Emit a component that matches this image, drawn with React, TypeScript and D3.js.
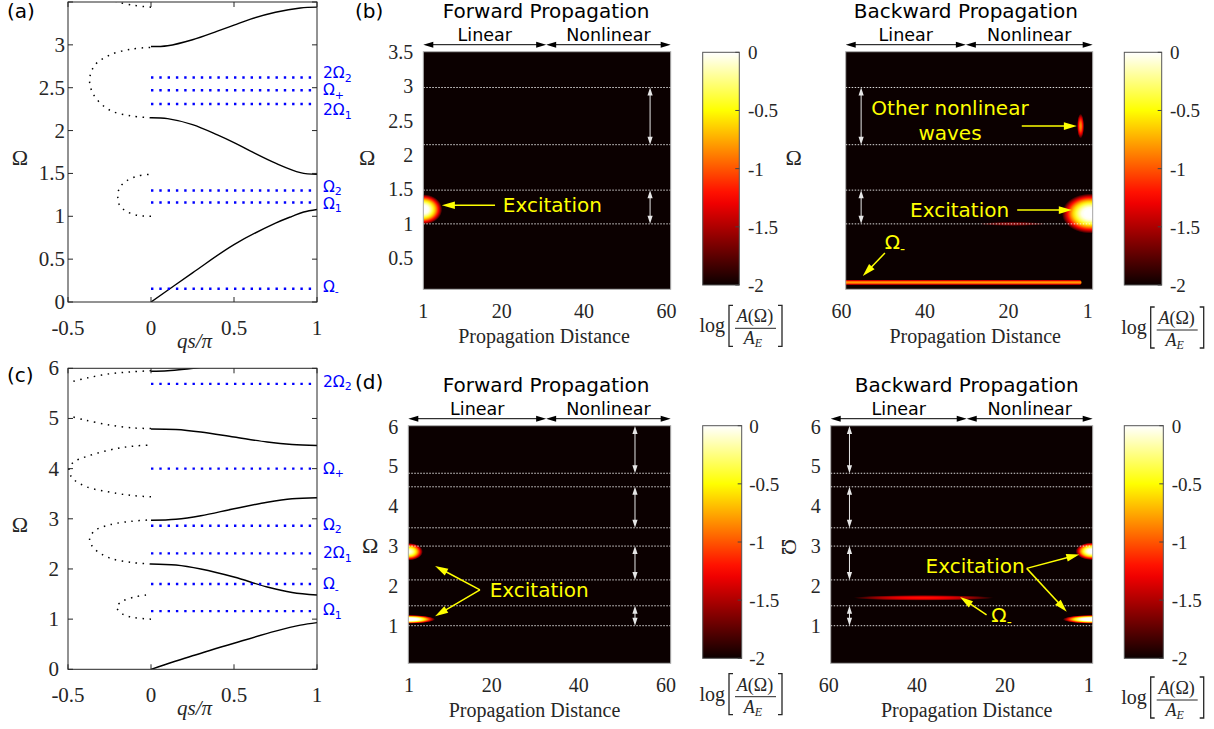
import React from "react";
import * as d3 from "d3";

const SERIF = "'Liberation Serif', 'Times New Roman', serif";
const SANS = "'DejaVu Sans', Verdana, sans-serif";
const INK = "#262626";
const YEL = "#ffff00";
const BLUE = "#0000ff";

// ---------------- (a) dispersion, (qs/π, Ω) ----------------
const qTicks = [-0.5, 0, 0.5, 1];
const omegaTicksA = [0, 0.5, 1, 1.5, 2, 2.5, 3, 3.5];
const omegaLabelsA = [0, 0.5, 1, 1.5, 2, 2.5, 3];
const bandsA = [
  [[0, 0], [0.25, 0.34], [0.5, 0.67], [0.75, 0.92], [0.85, 1.0], [0.92, 1.05], [1, 1.08]],
  [[0, 2.15], [0.1, 2.14], [0.25, 2.07], [0.4, 1.95], [0.5, 1.86], [0.6, 1.76], [0.75, 1.62], [0.9, 1.51], [1, 1.49]],
  [[0, 2.98], [0.1, 2.99], [0.25, 3.06], [0.4, 3.16], [0.5, 3.23], [0.6, 3.3], [0.75, 3.38], [0.9, 3.43], [1, 3.44]],
];
const evanescentA = [
  [[0, 1.0], [-0.08, 1.01], [-0.15, 1.06], [-0.19, 1.13], [-0.2, 1.23], [-0.19, 1.33], [-0.15, 1.41], [-0.08, 1.47], [0, 1.49]],
  [[0, 2.15], [-0.12, 2.17], [-0.25, 2.24], [-0.34, 2.4], [-0.37, 2.58], [-0.34, 2.76], [-0.25, 2.88], [-0.12, 2.95], [0, 2.97]],
  [[0, 3.44], [-0.1, 3.46], [-0.2, 3.5], [-0.25, 3.54]],
];
const pumpLevelsA = [2.62, 2.47, 2.31, 1.3, 1.16, 0.155];
const pumpNamesA = [["2Ω", "2"], ["Ω", "+"], ["2Ω", "1"], ["Ω", "2"], ["Ω", "1"], ["Ω", "-"]];
const pumpNudgeA = [-4, 0, 6, -4, 1, -2];

// ---------------- (c) dispersion ----------------
const omegaTicksC = [0, 1, 2, 3, 4, 5, 6];
const omegaLabelsC = [0, 1, 2, 3, 4, 5, 6];
const bandsC = [
  [[0, 0], [0.25, 0.27], [0.5, 0.52], [0.75, 0.76], [0.9, 0.88], [1, 0.93]],
  [[0, 2.1], [0.15, 2.08], [0.3, 2.0], [0.5, 1.84], [0.7, 1.64], [0.85, 1.53], [1, 1.48]],
  [[0, 2.97], [0.15, 2.99], [0.3, 3.06], [0.5, 3.2], [0.7, 3.33], [0.85, 3.4], [1, 3.42]],
  [[0, 4.79], [0.15, 4.78], [0.3, 4.73], [0.5, 4.63], [0.7, 4.53], [0.85, 4.48], [1, 4.46]],
  [[0, 5.94], [0.1, 5.95], [0.2, 5.98], [0.3, 6.02]],
];
const evanescentC = [
  [[0, 1.0], [-0.1, 1.03], [-0.17, 1.1], [-0.207, 1.24], [-0.17, 1.36], [-0.1, 1.44], [-0.03, 1.48]],
  [[0, 2.1], [-0.12, 2.13], [-0.25, 2.22], [-0.34, 2.4], [-0.37, 2.58], [-0.34, 2.76], [-0.25, 2.88], [-0.12, 2.95], [0, 2.98]],
  [[0, 3.44], [-0.1, 3.46], [-0.21, 3.51], [-0.39, 3.64], [-0.47, 3.8], [-0.495, 3.97], [-0.47, 4.12], [-0.39, 4.24], [-0.21, 4.4], [-0.1, 4.45], [0, 4.47]],
  [[0, 4.8], [-0.1, 4.81], [-0.25, 4.87], [-0.4, 4.97], [-0.48, 5.04]],
  [[0, 5.95], [-0.12, 5.93], [-0.25, 5.89], [-0.38, 5.81], [-0.47, 5.74]],
];
const pumpLevelsC = [5.69, 4.0, 2.86, 2.31, 1.7, 1.16];
const pumpNamesC = [["2Ω", "2"], ["Ω", "+"], ["Ω", "2"], ["2Ω", "1"], ["Ω", "-"], ["Ω", "1"]];
const pumpNudgeC = [-2, 0, -1, 0, 0, -1];

// ---------------- heat maps ----------------
const distTicksFwd = [1, 20, 40, 60];
const distTicksBwd = [60, 40, 20, 1];
const omegaTicksB = [0.5, 1, 1.5, 2, 2.5, 3, 3.5];
const omegaTicksD = [1, 2, 3, 4, 5, 6];
const cbarTicks = [0, -0.5, -1, -1.5, -2];

const bandEdgesB = [1.0, 1.49, 2.15, 2.98];
const bandEdgesD = [1.0, 1.5, 2.15, 3.0, 3.46, 4.49, 4.83];
const gapsB = [[2.15, 2.98], [1.0, 1.49]];
const gapsD = [[4.83, 6.02], [3.46, 4.49], [2.15, 3.0], [1.0, 1.5]];

// spots: [distance, Ω, distance radius, Ω radius, peak log10 amplitude]
const spotsBF = [[1, 1.21, 4.6, 0.22, 0.15]];
const spotsBB = [[0.4, 1.15, 6.8, 0.29, 0.15], [2.7, 2.42, 0.85, 0.18, -0.85], [19, 1.0, 8, 0.03, -1.6]];
const spotsDF = [[1, 2.86, 3.2, 0.22, -0.05], [1, 1.16, 6, 0.11, 0.3]];
const spotsDB = [[0.4, 2.87, 3.6, 0.22, 0.1], [0.4, 1.16, 6.5, 0.11, 0.3], [38.5, 1.7, 16, 0.07, -1.2]];
// streaks: [distance from, distance to, Ω, Ω half width, peak]
const streaksBB = [[61, 2.5, 0.15, 0.04, -0.8]];

// annotation texts [distance, Ω, text, subscript]; arrows [d0, Ω0, d1, Ω1]
const textsBF = [[32.3, 1.27, "Excitation", ""]];
const arrowsBF = [[18.4, 1.27, 5.5, 1.27]];
const textsBB = [[34, 2.68, "Other nonlinear", ""], [34, 2.32, "waves", ""], [31.7, 1.2, "Excitation", ""], [47.2, 0.73, "Ω", "-"]];
const arrowsBB = [[16.8, 2.42, 3.6, 2.42], [17.9, 1.2, 4.8, 1.2], [49.6, 0.577, 54.9, 0.243]];
const textsDF = [[30.9, 1.9, "Excitation", ""]];
const arrowsDF = [[17.3, 1.9, 7.0, 2.5], [17.3, 1.9, 7.0, 1.24]];
const textsDB = [[26.8, 2.5, "Excitation", ""], [20.8, 1.27, "Ω", "-"]];
const arrowsDB = [[15.1, 2.44, 3.16, 2.79], [15.1, 2.44, 6.0, 1.35], [24.2, 1.27, 30.2, 1.72]];

// linear / nonlinear boundary (distance) and gap-arrow distance per map
const splitBF = 30.8, splitBB = 30.2, splitDF = 32.5, splitDB = 28.7;
const gapDistBF = 56, gapDistBB = 55.3, gapDistDF = 52.9, gapDistDB = 55.3;

// MATLAB "hot" colour map
const hot = d3.scaleLinear<string>().domain([0, 0.375, 0.75, 1]).range(["#0b0000", "#ff0000", "#ffff00", "#ffffff"]).clamp(true);
const logToT = d3.scaleLinear().domain([-2, 0]).range([0, 1]).clamp(true);
const colorOf = (v: number) => hot(logToT(v));

function headPath(tx: number, ty: number, ux: number, uy: number, len: number, half: number) {
  const bx = tx - ux * len, by = ty - uy * len;
  return `M${tx},${ty}L${bx - uy * half},${by + ux * half}L${bx + uy * half},${by - ux * half}Z`;
}

function Arrow({ x0, y0, x1, y1, color, width = 1, len = 10, half = 3.5, both = false }: any) {
  const dx = x1 - x0, dy = y1 - y0, d = Math.hypot(dx, dy) || 1;
  const ux = dx / d, uy = dy / d;
  const sx = both ? x0 + ux * len * 0.7 : x0;
  const sy = both ? y0 + uy * len * 0.7 : y0;
  return (
    <g>
      <line x1={sx} y1={sy} x2={x1 - ux * len * 0.7} y2={y1 - uy * len * 0.7} stroke={color} strokeWidth={width} />
      <path d={headPath(x1, y1, ux, uy, len, half) + (both ? headPath(x0, y0, -ux, -uy, len, half) : "")} fill={color} />
    </g>
  );
}

function Dispersion({ id, x, y, yTicks, yLabels, bands, loops, levels, names, nudges, yTickGap }: any) {
  const [L, R] = x.range();
  const [B, T] = y.range();
  const line = d3.line<number[]>().x((d) => x(d[0])).y((d) => y(d[1])).curve(d3.curveCatmullRom.alpha(0.5));
  return (
    <g>
      <defs>
        <clipPath id={id}>
          <rect x={L} y={T} width={R - L} height={B - T} />
        </clipPath>
      </defs>
      <g clipPath={`url(#${id})`}>
        {bands.map((b: number[][], i: number) => (
          <path key={"b" + i} d={line(b) || ""} fill="none" stroke="#000" strokeWidth={1.4} />
        ))}
        {loops.map((b: number[][], i: number) => (
          <path key={"l" + i} d={line(b) || ""} fill="none" stroke="#000" strokeWidth={1.5} strokeDasharray="1.5 5.5" />
        ))}
        {levels.map((l: number, i: number) => (
          <line key={"p" + i} x1={x(0)} x2={x(1)} y1={y(l)} y2={y(l)} stroke={BLUE} strokeWidth={2.4} strokeDasharray="2.4 5.9" />
        ))}
      </g>
      <rect x={L} y={T} width={R - L} height={B - T} fill="none" stroke={INK} strokeWidth={1} />
      {qTicks.map((t) => (
        <g key={"xt" + t}>
          <line x1={x(t)} x2={x(t)} y1={B} y2={B - 5} stroke={INK} />
          <line x1={x(t)} x2={x(t)} y1={T} y2={T + 5} stroke={INK} />
          <text x={x(t)} y={B + 33} textAnchor="middle" fontFamily={SERIF} fontSize={21} fill={INK}>{t}</text>
        </g>
      ))}
      {yTicks.map((t: number) => (
        <g key={"yt" + t}>
          <line x1={L} x2={L + 5} y1={y(t)} y2={y(t)} stroke={INK} />
          <line x1={R} x2={R - 5} y1={y(t)} y2={y(t)} stroke={INK} />
        </g>
      ))}
      {yLabels.map((t: number) => (
        <text key={"yl" + t} x={L - yTickGap} y={y(t) + 7} textAnchor="end" fontFamily={SERIF} fontSize={21} fill={INK}>{t}</text>
      ))}
      {levels.map((l: number, i: number) => (
        <text key={"n" + i} x={R + 6} y={y(l) + 5 + nudges[i]} fontFamily={SANS} fontSize={15.5} fill={BLUE}>
          {names[i][0]}
          <tspan fontSize={11} dy={3.5}>{names[i][1]}</tspan>
        </text>
      ))}
      <text x={20} y={(B + T) / 2 + 13} textAnchor="middle" fontFamily={SERIF} fontSize={22} fill={INK}>Ω</text>
      <text x={(L + R) / 2 + 2} y={B + 46} textAnchor="middle" fontFamily={SERIF} fontSize={21} fontStyle="italic" fill={INK}>
        qs/π
      </text>
    </g>
  );
}

function profileStops(peak: number) {
  return d3.range(0, 11).map((i) => {
    const r = i / 10;
    return <stop key={i} offset={r} stopColor={colorOf(peak - (2 + peak) * r * r)} />;
  });
}
function mirrorStops(peak: number) {
  return d3.range(0, 21).map((i) => {
    const o = i / 20;
    const r = Math.abs(2 * o - 1);
    return <stop key={i} offset={o} stopColor={colorOf(peak - (2 + peak) * r * r)} />;
  });
}

function YText({ x, y, t, sub, size = 20 }: any) {
  return (
    <text x={x} y={y + 7} textAnchor="middle" fontFamily={SANS} fontSize={size} fill={YEL}>
      {t}
      {sub ? <tspan fontSize={14} dy={5}>{sub}</tspan> : null}
    </text>
  );
}

function Heatmap(p: any) {
  const { id, x, y } = p;
  const L = Math.min(...x.range()), R = Math.max(...x.range());
  const B = y.range()[0], T = y.range()[1];
  const xs = x(p.split);
  const arrowY = T - 7;
  return (
    <g>
      <defs>
        <clipPath id={`clip-${id}`}>
          <rect x={L} y={T} width={R - L} height={B - T} />
        </clipPath>
        {p.spots.map((s: number[], i: number) => (
          <radialGradient key={i} id={`${id}-s${i}`}>{profileStops(s[4])}</radialGradient>
        ))}
        {p.streaks.map((s: number[], i: number) => (
          <linearGradient key={i} id={`${id}-k${i}`} x1={0} y1={0} x2={0} y2={1}>{mirrorStops(s[4])}</linearGradient>
        ))}
      </defs>
      <rect x={L} y={T} width={R - L} height={B - T} fill={colorOf(-2)} />
      <g clipPath={`url(#clip-${id})`}>
        {p.spots.map((s: number[], i: number) => (
          <ellipse key={i} cx={x(s[0])} cy={y(s[1])} rx={Math.abs(x(s[0] + s[2]) - x(s[0]))} ry={Math.abs(y(s[1] + s[3]) - y(s[1]))} fill={`url(#${id}-s${i})`} />
        ))}
        {p.streaks.map((s: number[], i: number) => {
          const xa = Math.min(x(s[0]), x(s[1])), xb = Math.max(x(s[0]), x(s[1]));
          const ya = y(s[2] + s[3]), yb = y(s[2] - s[3]);
          return <rect key={i} x={xa} y={ya} width={xb - xa} height={yb - ya} rx={(yb - ya) / 2} fill={`url(#${id}-k${i})`} />;
        })}
      </g>
      {p.edges.map((e: number) => (
        <line key={e} x1={L} x2={R} y1={y(e)} y2={y(e)} stroke="#ffffff" strokeOpacity={0.85} strokeWidth={1} strokeDasharray="1.5 1.5" />
      ))}
      {p.gaps.map((g: number[], i: number) => (
        <Arrow key={i} x0={x(p.gapDist)} y0={y(g[0])} x1={x(p.gapDist)} y1={y(g[1])} color="#e6e6e6" width={1} len={8} half={2.6} both />
      ))}
      <rect x={L} y={T} width={R - L} height={B - T} fill="none" stroke="#b0b0b0" strokeWidth={1} />
      {/* linear / nonlinear */}
      <Arrow x0={L} y0={arrowY} x1={xs} y1={arrowY} color="#000" len={10} half={3} both />
      <Arrow x0={xs} y0={arrowY} x1={R} y1={arrowY} color="#000" len={10} half={3} both />
      <text x={(L + xs) / 2} y={T - 11} textAnchor="middle" fontFamily={SANS} fontSize={17.5} fill="#000">Linear</text>
      <text x={(xs + R) / 2} y={T - 11} textAnchor="middle" fontFamily={SANS} fontSize={17.5} fill="#000">Nonlinear</text>
      <text x={xs} y={T - 34} textAnchor="middle" fontFamily={SANS} fontSize={20} fill="#000">{p.title}</text>
      {/* ticks */}
      {p.xTicks.map((t: number) => (
        <text key={"x" + t} x={x(t)} y={B + 29} textAnchor="middle" fontFamily={SERIF} fontSize={20} fill={INK}>{t}</text>
      ))}
      {p.yTicks.map((t: number) => (
        <text key={"y" + t} x={L - 10} y={y(t) + 7} textAnchor="end" fontFamily={SERIF} fontSize={20} fill={INK}>{t}</text>
      ))}
      <text
        x={L + p.ylab[0]}
        y={p.ylab[1]}
        textAnchor="middle"
        dominantBaseline="central"
        transform={p.ylab[2] ? `rotate(90 ${L + p.ylab[0]} ${p.ylab[1]})` : undefined}
        fontFamily={SERIF}
        fontSize={22}
        fill={INK}
      >
        Ω
      </text>
      <text x={(L + R) / 2 + p.xlabDx} y={B + 54} textAnchor="middle" fontFamily={SERIF} fontSize={20} fill={INK}>
        Propagation Distance
      </text>
      {/* annotations */}
      {p.arrows.map((a: number[], i: number) => (
        <Arrow key={"a" + i} x0={x(a[0])} y0={y(a[1])} x1={x(a[2])} y1={y(a[3])} color={YEL} width={1.5} len={13} half={3.8} />
      ))}
      {p.texts.map((t: any[], i: number) => (
        <YText key={"t" + i} x={x(t[0])} y={y(t[1])} t={t[2]} sub={t[3]} />
      ))}
    </g>
  );
}

function Colorbar({ id, x, w, top, bottom, labelX, fracX, fracY }: any) {
  const c = d3.scaleLinear().domain([-2, 0]).range([bottom, top]);
  return (
    <g>
      <defs>
        <linearGradient id={id} x1={0} y1={1} x2={0} y2={0}>
          {d3.range(0, 21).map((i) => (
            <stop key={i} offset={i / 20} stopColor={colorOf(-2 + (2 * i) / 20)} />
          ))}
        </linearGradient>
      </defs>
      <rect x={x} y={top} width={w} height={bottom - top} fill={`url(#${id})`} stroke="#555" strokeWidth={1} />
      {cbarTicks.map((t) => (
        <g key={t}>
          <line x1={x + w} x2={x + w - 4} y1={c(t)} y2={c(t)} stroke="#444" />
          <text x={labelX} y={c(t) + 7} fontFamily={SERIF} fontSize={19} fill={INK}>{t}</text>
        </g>
      ))}
      <text x={fracX - 30} y={fracY + 4} textAnchor="end" fontFamily={SERIF} fontSize={20} fill={INK}>log</text>
      <path d={`M${fracX - 22},${fracY - 23} h-4 v41 h4`} fill="none" stroke={INK} strokeWidth={1.3} />
      <path d={`M${fracX + 23},${fracY - 23} h4 v41 h-4`} fill="none" stroke={INK} strokeWidth={1.3} />
      <text x={fracX} y={fracY - 6} textAnchor="middle" fontFamily={SERIF} fontSize={18} fill={INK}>
        <tspan fontStyle="italic">A</tspan>(Ω)
      </text>
      <line x1={fracX - 20} x2={fracX + 21} y1={fracY} y2={fracY} stroke={INK} strokeWidth={1} />
      <text x={fracX - 2} y={fracY + 16} textAnchor="middle" fontFamily={SERIF} fontSize={18} fill={INK}>
        <tspan fontStyle="italic">A</tspan>
        <tspan fontStyle="italic" fontSize={12} dy={3}>E</tspan>
      </text>
    </g>
  );
}

export default function App() {
  const xA = d3.scaleLinear().domain([-0.5, 1]).range([68, 317]);
  const yA = d3.scaleLinear().domain([0, 3.5]).range([302, 2]);
  const xC = d3.scaleLinear().domain([-0.5, 1]).range([68, 317]);
  const yC = d3.scaleLinear().domain([0, 6]).range([669.3, 368.3]);

  const xBF = d3.scaleLinear().domain([1, 61]).range([423.3, 670.7]);
  const yB = d3.scaleLinear().domain([0.05, 3.5]).range([289.3, 51.7]);
  const xBB = d3.scaleLinear().domain([59, -0.2]).range([845.7, 1092.7]);
  const xDF = d3.scaleLinear().domain([0.85, 61.1]).range([408.3, 670.7]);
  const yD = d3.scaleLinear().domain([0.055, 6.025]).range([663.3, 425.7]);
  const xDB = d3.scaleLinear().domain([59.56, 0.12]).range([830.7, 1092.7]);

  const panelLabel = (t: string, x: number, y: number) => (
    <text x={x} y={y} fontFamily={SANS} fontSize={20} fill="#000">{t}</text>
  );

  return (
    <svg width={1214} height={729} style={{ position: "absolute", left: 0, top: 0, background: "#fff" }}>
      <rect x={0} y={0} width={1214} height={729} fill="#fff" />
      <Dispersion id="ca" x={xA} y={yA} yTicks={omegaTicksA} yLabels={omegaLabelsA} bands={bandsA} loops={evanescentA} levels={pumpLevelsA} names={pumpNamesA} nudges={pumpNudgeA} yTickGap={3} />
      <Dispersion id="cc" x={xC} y={yC} yTicks={omegaTicksC} yLabels={omegaLabelsC} bands={bandsC} loops={evanescentC} levels={pumpLevelsC} names={pumpNamesC} nudges={pumpNudgeC} yTickGap={9} />

      <Heatmap id="bf" x={xBF} y={yB} title="Forward Propagation" xTicks={distTicksFwd} yTicks={omegaTicksB} edges={bandEdgesB} gaps={gapsB} gapDist={gapDistBF} split={splitBF} spots={spotsBF} streaks={[]} texts={textsBF} arrows={arrowsBF} ylab={[-56, 157, false]} xlabDx={-3} />
      <Heatmap id="bb" x={xBB} y={yB} title="Backward Propagation" xTicks={distTicksBwd} yTicks={[]} edges={bandEdgesB} gaps={gapsB} gapDist={gapDistBB} split={splitBB} spots={spotsBB} streaks={streaksBB} texts={textsBB} arrows={arrowsBB} ylab={[-52, 157, false]} xlabDx={6} />
      <Heatmap id="df" x={xDF} y={yD} title="Forward Propagation" xTicks={distTicksFwd} yTicks={omegaTicksD} edges={bandEdgesD} gaps={gapsD} gapDist={gapDistDF} split={splitDF} spots={spotsDF} streaks={[]} texts={textsDF} arrows={arrowsDF} ylab={[-38, 545, false]} xlabDx={-5} />
      <Heatmap id="db" x={xDB} y={yD} title="Backward Propagation" xTicks={distTicksBwd} yTicks={omegaTicksD} edges={bandEdgesD} gaps={gapsD} gapDist={gapDistDB} split={splitDB} spots={spotsDB} streaks={[]} texts={textsDB} arrows={arrowsDB} ylab={[-41, 547, true]} xlabDx={5} />

      <Colorbar id="cb1" x={702.7} w={36.6} top={52.3} bottom={285} labelX={748} fracX={755} fracY={328.3} />
      <Colorbar id="cb2" x={1124.3} w={37.4} top={52.3} bottom={285} labelX={1170} fracX={1176.7} fracY={330} />
      <Colorbar id="cb3" x={702.7} w={39} top={425.7} bottom={658.3} labelX={749.3} fracX={755} fracY={696.7} />
      <Colorbar id="cb4" x={1124.3} w={39} top={425.7} bottom={658.3} labelX={1171.7} fracX={1176.7} fracY={700} />

      {panelLabel("(a)", 7, 18)}
      {panelLabel("(b)", 355, 18)}
      {panelLabel("(c)", 7, 382)}
      {panelLabel("(d)", 355, 389)}
    </svg>
  );
}
